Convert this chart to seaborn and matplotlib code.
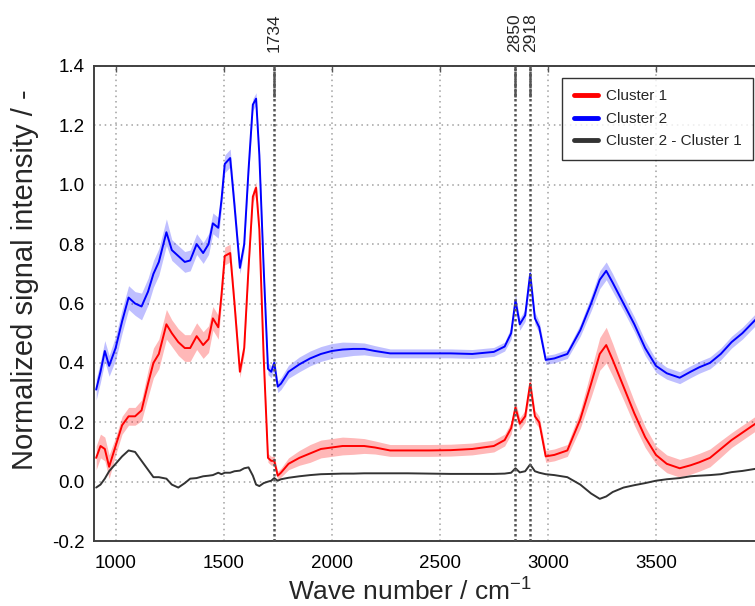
import pandas as pd
import seaborn as sns
import matplotlib.pyplot as plt
from matplotlib.lines import Line2D
import matplotlib.transforms as mtransforms

# --- data (wave number in cm-1) ---
wave_number = [910, 930, 950, 970, 1000, 1030, 1060, 1090, 1120, 1150,
               1175, 1200, 1235, 1260, 1290, 1320, 1345, 1375, 1405, 1430,
               1450, 1475, 1490, 1505, 1530, 1550, 1575, 1595, 1615, 1635,
               1650, 1665, 1685, 1705, 1720, 1734, 1750, 1765, 1800, 1850,
               1900, 1950, 2000, 2050, 2100, 2150, 2200, 2270, 2350, 2450,
               2550, 2650, 2750, 2800, 2830, 2850, 2870, 2895, 2918, 2940,
               2960, 2990, 3030, 3090, 3150, 3200, 3240, 3270, 3300, 3350,
               3400, 3450, 3500, 3550, 3610, 3660, 3700, 3750, 3800, 3850,
               3900, 3960, 4000]

cluster1 = [0.08, 0.12, 0.11, 0.05, 0.12, 0.19, 0.22, 0.22, 0.24, 0.33,
            0.40, 0.43, 0.53, 0.50, 0.47, 0.45, 0.45, 0.49, 0.46, 0.48,
            0.55, 0.52, 0.63, 0.76, 0.77, 0.60, 0.37, 0.45, 0.72, 0.96,
            0.99, 0.85, 0.42, 0.08, 0.07, 0.07, 0.02, 0.03, 0.06, 0.08,
            0.095, 0.11, 0.115, 0.12, 0.12, 0.12, 0.115, 0.105, 0.105, 0.105,
            0.106, 0.11, 0.12, 0.14, 0.18, 0.25, 0.195, 0.22, 0.33, 0.22,
            0.20, 0.085, 0.09, 0.105, 0.21, 0.33, 0.43, 0.46, 0.41, 0.32,
            0.23, 0.15, 0.09, 0.06, 0.045, 0.055, 0.065, 0.08, 0.11, 0.14,
            0.165, 0.195, 0.215]

cluster1_sd = [0.04, 0.04, 0.04, 0.04, 0.03, 0.03, 0.03, 0.03, 0.035, 0.045,
               0.05, 0.05, 0.05, 0.045, 0.045, 0.045, 0.045, 0.045, 0.045, 0.045,
               0.04, 0.04, 0.03, 0.03, 0.03, 0.025, 0.02, 0.02, 0.02, 0.02,
               0.02, 0.02, 0.02, 0.015, 0.015, 0.015, 0.015, 0.015, 0.02, 0.025,
               0.03, 0.03, 0.03, 0.03, 0.028, 0.025, 0.022, 0.02, 0.02, 0.02,
               0.02, 0.02, 0.02, 0.02, 0.02, 0.02, 0.02, 0.02, 0.025, 0.02,
               0.02, 0.02, 0.02, 0.02, 0.03, 0.045, 0.055, 0.06, 0.055, 0.045,
               0.04, 0.035, 0.03, 0.03, 0.03, 0.03, 0.03, 0.03, 0.028, 0.025,
               0.025, 0.025, 0.025]

cluster2 = [0.31, 0.37, 0.44, 0.39, 0.45, 0.54, 0.62, 0.60, 0.59, 0.64,
            0.70, 0.74, 0.84, 0.78, 0.76, 0.74, 0.745, 0.80, 0.77, 0.80,
            0.87, 0.855, 0.95, 1.07, 1.09, 0.93, 0.72, 0.80, 1.05, 1.27,
            1.29, 1.10, 0.72, 0.38, 0.37, 0.40, 0.32, 0.33, 0.37, 0.395,
            0.415, 0.43, 0.44, 0.445, 0.447, 0.447, 0.44, 0.432, 0.432, 0.432,
            0.432, 0.43, 0.437, 0.455, 0.50, 0.61, 0.53, 0.56, 0.70, 0.55,
            0.52, 0.41, 0.415, 0.43, 0.51, 0.60, 0.68, 0.71, 0.67, 0.60,
            0.53, 0.45, 0.39, 0.365, 0.35, 0.37, 0.385, 0.40, 0.43, 0.47,
            0.50, 0.545, 0.57]

cluster2_sd = [0.035, 0.035, 0.035, 0.035, 0.04, 0.04, 0.04, 0.04, 0.045, 0.045,
               0.045, 0.045, 0.045, 0.035, 0.035, 0.035, 0.035, 0.035, 0.035, 0.035,
               0.035, 0.035, 0.03, 0.03, 0.03, 0.03, 0.02, 0.02, 0.02, 0.02,
               0.02, 0.02, 0.02, 0.02, 0.02, 0.02, 0.02, 0.02, 0.022, 0.025,
               0.025, 0.025, 0.025, 0.025, 0.022, 0.02, 0.018, 0.015, 0.015, 0.015,
               0.015, 0.015, 0.015, 0.015, 0.02, 0.02, 0.02, 0.02, 0.025, 0.02,
               0.02, 0.015, 0.015, 0.015, 0.02, 0.025, 0.03, 0.03, 0.03, 0.025,
               0.025, 0.025, 0.022, 0.02, 0.02, 0.02, 0.02, 0.02, 0.02, 0.02,
               0.02, 0.02, 0.02]

difference = [-0.02, -0.01, 0.01, 0.035, 0.06, 0.085, 0.105, 0.10, 0.07, 0.04,
              0.015, 0.015, 0.01, -0.01, -0.02, -0.005, 0.01, 0.012, 0.018, 0.02,
              0.022, 0.03, 0.025, 0.03, 0.03, 0.035, 0.037, 0.045, 0.048, 0.02,
              -0.01, -0.015, -0.005, 0.0, 0.003, 0.012, 0.003, 0.008, 0.013, 0.018,
              0.022, 0.025, 0.026, 0.027, 0.027, 0.028, 0.028, 0.028, 0.028, 0.027,
              0.026, 0.026, 0.026, 0.027, 0.03, 0.045, 0.031, 0.035, 0.058, 0.035,
              0.03, 0.025, 0.022, 0.015, -0.01, -0.04, -0.058, -0.05, -0.035, -0.02,
              -0.012, -0.005, 0.003, 0.008, 0.012, 0.018, 0.02, 0.022, 0.025, 0.032,
              0.036, 0.043, 0.046]

marked_peaks = [1734, 2850, 2918]
series_names = ['Cluster 1', 'Cluster 2', 'Cluster 2 - Cluster 1']

df = pd.DataFrame({
    'wn': wave_number * 3,
    'val': cluster1 + cluster2 + difference,
    'series': [s for s in series_names for _ in wave_number],
})

palette = {'Cluster 1': '#ff0000', 'Cluster 2': '#0000ff',
           'Cluster 2 - Cluster 1': '#333333'}

sns.set_style("white")
plt.rcParams['font.family'] = ['Liberation Sans', 'DejaVu Sans']
plt.rcParams['mathtext.fontset'] = 'custom'
plt.rcParams['mathtext.rm'] = 'Liberation Sans'

fig = plt.figure(figsize=(7.55, 6.06), dpi=100)
# axes run a little past the right edge of the figure, as in the original crop
ax = fig.add_axes([94 / 755, 65 / 606, 670 / 755, 475 / 606])

# shaded bands (mean +/- sd)
lo1 = [m - s for m, s in zip(cluster1, cluster1_sd)]
hi1 = [m + s for m, s in zip(cluster1, cluster1_sd)]
lo2 = [m - s for m, s in zip(cluster2, cluster2_sd)]
hi2 = [m + s for m, s in zip(cluster2, cluster2_sd)]
ax.fill_between(wave_number, lo1, hi1, color='#ff0000', alpha=0.28, lw=0)
ax.fill_between(wave_number, lo2, hi2, color='#0000ff', alpha=0.25, lw=0)

sns.lineplot(data=df, x='wn', y='val', hue='series', palette=palette,
             linewidth=1.4, legend=False, ax=ax, sort=False)

ax.set_xlim(900, 4000)
ax.set_ylim(-0.2, 1.4)
ax.set_xticks([1000, 1500, 2000, 2500, 3000, 3500])
ax.set_yticks([-0.2, 0.0, 0.2, 0.4, 0.6, 0.8, 1.0, 1.2, 1.4])
ax.set_yticklabels(['-0.2', '0.0', '0.2', '0.4', '0.6', '0.8', '1.0', '1.2', '1.4'])
ax.grid(True, linestyle=(0, (1, 2.5)), color='#a0a0a0', linewidth=1.1)
ax.tick_params(direction='in', length=4, width=1, color='#555555', top=True,
               labelsize=13.5, labelcolor='black')
ax.tick_params(axis='x', pad=10)
ax.tick_params(axis='y', pad=7)
for side in ['left', 'top', 'bottom']:
    ax.spines[side].set_color('#404040')
    ax.spines[side].set_linewidth(1.4)
ax.spines['right'].set_visible(False)

# marked peak positions
trans = mtransforms.blended_transform_factory(ax.transData, ax.transAxes)
label_shift = {1734: 0, 2850: -4, 2918: 4}
for p in marked_peaks:
    ax.axvline(p, color='#555555', linestyle=(0, (1, 1)), linewidth=1.8, zorder=3)
    ax.axvline(p, ymin=0.935, ymax=1, color='#555555', linestyle=(0, (3, 0.6)),
               linewidth=1.8, zorder=3)
    ax.text(p + label_shift[p], 1.03, str(p), transform=trans, rotation=90,
            ha='center', va='bottom', fontsize=12.5)

ax.set_xlabel('Wave number / cm$^{-1}$', fontsize=19)
ax.set_ylabel('Normalized signal intensity / -', fontsize=21)
ax.xaxis.label.set_va('center')
ax.xaxis.set_label_coords((410 - 94) / 670, (541 - 591) / 475)
ax.yaxis.label.set_va('center')
ax.yaxis.set_label_coords((25 - 94) / 670, (541 - 280) / 475)

handles = [Line2D([], [], color=palette[s], linewidth=3.5) for s in series_names]
leg = fig.legend(handles, series_names, loc='upper right',
                 bbox_to_anchor=(753 / 755, 1 - 78 / 606), fontsize=11,
                 frameon=True, fancybox=False, handlelength=1.6,
                 borderpad=0.75, labelspacing=0.55, handletextpad=0.5,
                 borderaxespad=0)
leg.get_frame().set_edgecolor('black')
leg.get_frame().set_linewidth(1.0)

fig.savefig('out.png', dpi=100)
